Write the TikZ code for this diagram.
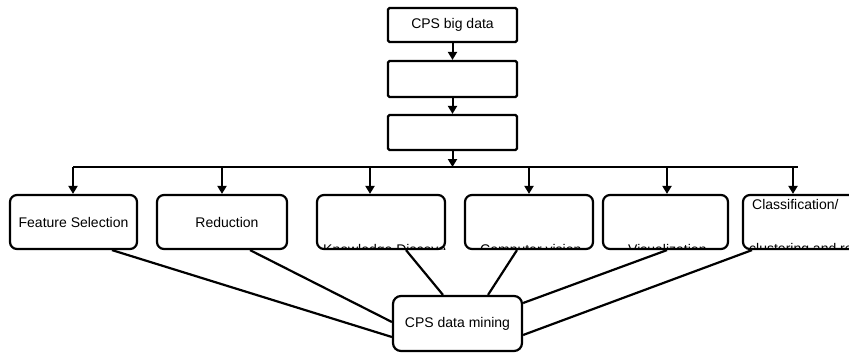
\documentclass[tikz,border=0pt]{standalone}
\usepackage{fontspec}
\setmainfont{Liberation Sans}
\usetikzlibrary{arrows.meta}
\begin{document}
\begin{tikzpicture}[x=1pt,y=-1pt,
  every node/.style={font=\fontsize{14}{16}\selectfont, text=black},
  topbox/.style={draw=black, line width=2.2pt, rounded corners=1.5pt, minimum width=129pt, inner sep=0pt, fill=white},
  rowbox/.style={draw=black, line width=2.2pt, rounded corners=7pt, minimum height=54pt, inner sep=0pt, fill=white},
  conn/.style={draw=black, line width=2.2pt},
  arr/.style={draw=black, line width=2pt, -{Triangle[width=9pt,length=8pt]}},
  cliptext/.style={inner sep=0pt, anchor=base west}
]
\useasboundingbox (0,0) rectangle (849,354);
\clip (0,0) rectangle (849,354);

% top chain
\node[topbox, minimum height=34pt] (big) at (452.5,25) {CPS big data};
\node[topbox, minimum height=36pt] (b2) at (452.5,79) {};
\node[topbox, minimum height=35pt] (b3) at (452.5,132.5) {};

% row boxes
\node[rowbox, minimum width=127pt] (fs) at (73.5,222) {Feature Selection};
\node[rowbox, minimum width=130pt] (red) at (222,222) {\hspace*{10pt}Reduction};
\node[rowbox, minimum width=128pt] (kd) at (381,222) {};
\node[rowbox, minimum width=128pt] (cv) at (529,222) {};
\node[rowbox, minimum width=125pt] (vis) at (665.5,222) {};
\node[rowbox, minimum width=127pt] (cls) at (806.5,222) {};

% mining box
\node[draw=black, line width=2.2pt, rounded corners=8pt, minimum width=129pt, minimum height=55pt, inner sep=0pt, fill=white] (dm) at (457.5,323.5) {CPS data mining};

% clipped texts
\begin{scope}
\clip ([xshift=1pt,yshift=1pt]kd.south west) rectangle ([xshift=-1pt,yshift=-1pt]kd.north east);
\node[cliptext] (kdt) at (323,254.5) {Knowledge Discovery};
\end{scope}
\begin{scope}
\clip ([xshift=1pt,yshift=1pt]cv.south west) rectangle ([xshift=-1pt,yshift=-1pt]cv.north east);
\node[cliptext] (cvt) at (480,254.5) {Computer vision};
\end{scope}
\begin{scope}
\clip ([xshift=1pt,yshift=1pt]vis.south west) rectangle ([xshift=-1pt,yshift=-1pt]vis.north east);
\node[cliptext] (vist) at (628,254.5) {Visualization};
\end{scope}
\begin{scope}
\clip ([xshift=1pt,yshift=1pt]cls.south west) rectangle ([xshift=-1pt,yshift=-1pt]cls.north east);
\node[cliptext] (clst) at (749,253.5) {clustering and real};
\end{scope}
\node[cliptext] (clsh) at (752,209) {Classification/};

% chain arrows
\draw[arr] (big.south) -- (b2.north);
\draw[arr] (b2.south) -- (b3.north);
\coordinate (busL) at (73,167);
\coordinate (busR) at (798,167);
\draw[arr] (b3.south) -- (b3.south |- busL);
\draw[conn] (busL) -- (busR);

% drops
\coordinate (d1) at (73,167);
\coordinate (d2) at (222,167);
\coordinate (d3) at (370,167);
\coordinate (d4) at (529,167);
\coordinate (d5) at (667,167);
\coordinate (d6) at (793,167);
\draw[arr] (d1) -- (d1 |- fs.north);
\draw[arr] (d2) -- (d2 |- red.north);
\draw[arr] (d3) -- (d3 |- kd.north);
\draw[arr] (d4) -- (d4 |- cv.north);
\draw[arr] (d5) -- (d5 |- vis.north);
\draw[arr] (d6) -- (d6 |- cls.north);

% connectors to mining
\draw[conn] ([xshift=38.5pt]fs.south) -- ([yshift=-13.5pt]dm.west);
\draw[conn] ([xshift=28pt]red.south) -- ([yshift=1.5pt]dm.west);
\draw[conn] ([xshift=25pt]kd.south) -- ([xshift=-14.5pt]dm.north);
\draw[conn] ([xshift=-12pt]cv.south) -- ([xshift=30.5pt]dm.north);
\draw[conn] ([xshift=1.5pt]vis.south) -- ([yshift=20.5pt]dm.east);
\draw[conn] ([xshift=-54.5pt]cls.south) -- ([yshift=-11.5pt]dm.east);
\end{tikzpicture}
\end{document}
